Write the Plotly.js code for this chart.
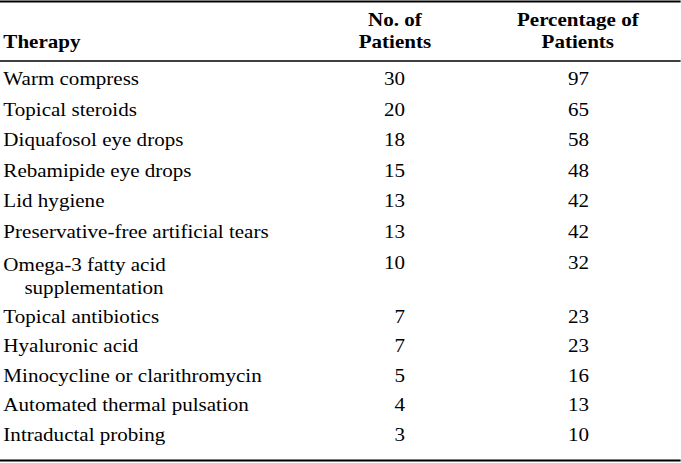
<!DOCTYPE html>
<html><head><meta charset="utf-8">
<script src="https://cdn.plot.ly/plotly-3.0.1.min.js"></script>
<style>
html,body{margin:0;padding:0;background:#fff;overflow:hidden;}
#chart{position:absolute;left:-6px;top:0;width:587px;height:463px;transform:scaleX(1.17);transform-origin:0 0;}
</style></head><body><div id="chart"></div>
<script>
const therapies = [
  "Warm compress",
  "Topical steroids",
  "Diquafosol eye drops",
  "Rebamipide eye drops",
  "Lid hygiene",
  "Preservative-free artificial tears",
  "Omega-3 fatty acid<br>\u00a0\u00a0\u00a0\u00a0supplementation",
  "Topical antibiotics",
  "Hyaluronic acid",
  "Minocycline or clarithromycin",
  "Automated thermal pulsation",
  "Intraductal probing"
];
const patientCounts = [30, 20, 18, 15, 13, 13, 10, 7, 7, 5, 4, 3];
const patientPercents = [97, 65, 58, 48, 42, 42, 32, 23, 23, 16, 13, 10];
const headerLine1 = ["", "No. of", "Percentage of"];
const headerLine2 = ["Therapy", "Patients", "Patients"];

const FONT = "Liberation Serif, Times New Roman, serif";
const H = 463;
const py = Y => 1 - Y / H;
const NOLINE = {width: 0, color: "rgba(0,0,0,0)"};
const NOFILL = {color: "rgba(0,0,0,0)"};
const bodyFont = {family: FONT, size: 18, color: "#000"};
const boldFont = {family: FONT, size: 18, color: "#000", weight: "bold"};

// column header (two lines, each centred)
const headerTrace = {
  type: "table",
  domain: {x: [0, 1], y: [py(54), py(4)]},
  columnwidth: [292.7, 100, 27.3, 158, 9],
  header: {
    values: [headerLine1[0], headerLine1[1], "", headerLine1[2], ""],
    align: ["left", "center", "center", "center", "center"],
    height: 22,
    line: NOLINE, fill: NOFILL, font: boldFont
  },
  cells: {
    values: [[headerLine2[0]], [headerLine2[1]], [""], [headerLine2[2]], [""]],
    align: ["left", "center", "center", "center", "center"],
    height: 22,
    line: NOLINE, fill: NOFILL, font: boldFont
  }
};

function bodyTable(from, to, topY, bottomY, rowH) {
  const t = therapies.slice(from, to);
  return {
    type: "table",
    domain: {x: [0, 1], y: [py(bottomY), py(topY)]},
    columnwidth: [300, 59.3, 157.2, 70.5],
    header: {
      values: ["", "", "", ""],
      height: 20,
      line: NOLINE, fill: NOFILL, font: bodyFont
    },
    cells: {
      values: [t, patientCounts.slice(from, to), patientPercents.slice(from, to), t.map(() => "")],
      align: ["left", "right", "right", "left"],
      height: rowH,
      line: NOLINE, fill: NOFILL, font: bodyFont
    }
  };
}

const bodyTop = bodyTable(0, 7, 43.5, 308, 30.6);
const bodyBottom = bodyTable(7, 12, 281, 463, 29.5);

const layout = {
  width: 587,
  height: H,
  margin: {l: 0, r: 0, t: 0, b: 0, pad: 0},
  paper_bgcolor: "#fff",
  plot_bgcolor: "#fff",
  showlegend: false,
  shapes: [
    {type: "line", xref: "paper", yref: "paper", x0: 0, x1: 1, y0: py(1.5), y1: py(1.5), line: {color: "#000", width: 2}},
    {type: "line", xref: "paper", yref: "paper", x0: 0, x1: 1, y0: py(61), y1: py(61), line: {color: "#000", width: 1.5}},
    {type: "line", xref: "paper", yref: "paper", x0: 0, x1: 1, y0: py(460.5), y1: py(460.5), line: {color: "#000", width: 2}}
  ]
};

Plotly.newPlot("chart", [bodyTop, bodyBottom, headerTrace], layout, {displayModeBar: false, staticPlot: true});
</script></body></html>
